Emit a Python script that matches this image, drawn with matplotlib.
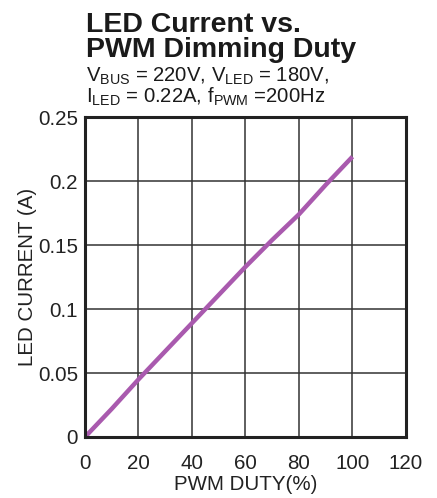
import matplotlib
matplotlib.use("Agg")
import matplotlib.pyplot as plt

plt.rcParams['font.family'] = ['Liberation Sans', 'DejaVu Sans']
plt.rcParams['mathtext.fontset'] = 'custom'
plt.rcParams['mathtext.rm'] = 'Liberation Sans'
plt.rcParams['mathtext.it'] = 'Liberation Sans'

# PWM duty (%) vs LED current (A)
duty = [0, 10, 20, 30, 40, 50, 60, 70, 80, 90, 100]
current = [0, 0.022, 0.045, 0.067, 0.089, 0.111, 0.133, 0.154, 0.174, 0.197, 0.219]

xticks = [0, 20, 40, 60, 80, 100, 120]
yticks = [0, 0.05, 0.1, 0.15, 0.2, 0.25]
ytick_labels = ["0", "0.05", "0.1", "0.15", "0.2", "0.25"]

fig = plt.figure(figsize=(4.37, 4.98), dpi=100)
ax = fig.add_axes([0.1945, 0.1225, 0.7345, 0.6425])

ax.plot(duty, current, color='#a95aae', linewidth=3.2, solid_capstyle='butt')

ax.set_xlim(0, 120)
ax.set_ylim(0, 0.25)
ax.set_xticks(xticks)
ax.set_yticks(yticks)
ax.set_yticklabels(ytick_labels)
ax.tick_params(length=0, labelsize=14.8, colors='#222222')
ax.tick_params(axis='x', pad=12)
ax.tick_params(axis='y', pad=5)
ax.grid(True, color='#333333', linewidth=1.1)
for s in ax.spines.values():
    s.set_linewidth(2.2)
    s.set_color('#222222')

ax.set_xlabel("PWM DUTY(%)", fontsize=14.8, color='#222222', labelpad=2)
ax.set_ylabel("LED CURRENT (A)", fontsize=14.8, color='#222222', labelpad=1)

fig.text(0.197, 0.936, "LED Current vs.", fontsize=20.5, fontweight='bold', color='#1a1a1a', ha='left', va='baseline')
fig.text(0.197, 0.885, "PWM Dimming Duty", fontsize=20.5, fontweight='bold', color='#1a1a1a', ha='left', va='baseline')
fig.text(0.197, 0.836, r"V$_{\mathrm{BUS}}$ = 220V, V$_{\mathrm{LED}}$ = 180V,", fontsize=14.6, color='#1a1a1a', ha='left', va='baseline')
fig.text(0.197, 0.793, r"I$_{\mathrm{LED}}$ = 0.22A, f$_{\mathrm{PWM}}$ =200Hz", fontsize=14.6, color='#1a1a1a', ha='left', va='baseline')

fig.savefig("out.png", dpi=100)
